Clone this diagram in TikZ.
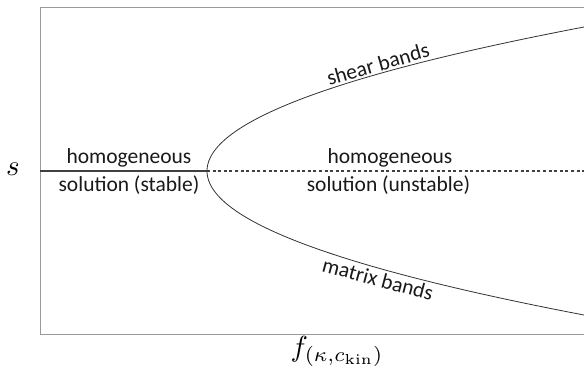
\documentclass[tikz,border=0pt]{standalone}
\usepackage[no-math]{fontspec}
\setmainfont{Carlito}
\begin{document}
\begin{tikzpicture}[x=1pt,y=-1pt,
  lbl/.style={font=\fontsize{21.5}{26}\selectfont, text=black!90, inner sep=0pt},
  mathlbl/.style={scale=2.9, inner sep=0pt},
  frameline/.style={draw=black!40, line width=1pt},
  branch/.style={draw=black!80, line width=0.8pt},
  trivial/.style={draw=black!75, line width=1.5pt},
  dashtrivial/.style={draw=black!75, line width=1.2pt, dash pattern=on 3pt off 2.6pt}]
\useasboundingbox (0,0) rectangle (584,372);
\clip (0,0) rectangle (584,372);
% frame (right side lies beyond the picture)
\draw[frameline] (600,7) -- (40,7) -- (40,334) -- (600,334);
% bifurcation point
\coordinate (bp) at (207,171);
\coordinate (left) at (40,171);
\coordinate (right) at (590,171);
\draw[trivial] (left) -- (bp);
\draw[dashtrivial] (bp) -- (right);
% parabola branches
\draw[branch] plot[domain=-150:150, samples=121, smooth] ({207+1.818*(\x/10)*(\x/10)},{171+\x});
% labels
\node[lbl, anchor=base] (hl) at (129,163) {homogeneous};
\node[lbl, anchor=base] (sl) at (129,191) {solution (stable)};
\node[lbl, anchor=base] (hr) at (390,163) {homogeneous};
\node[lbl, anchor=base] (sr) at (388.5,191) {solution (unstable)};
\node[lbl, rotate=16] (sb) at (378,64) {shear bands};
\node[lbl, rotate=-15] (mb) at (378,279) {matrix bands};
\node[mathlbl] (s) at (13,169) {$s$};
\node[mathlbl, anchor=base west] (f) at (290,356) {$f_{(\kappa,c_{\mathrm{kin}})}$};
\end{tikzpicture}
\end{document}
